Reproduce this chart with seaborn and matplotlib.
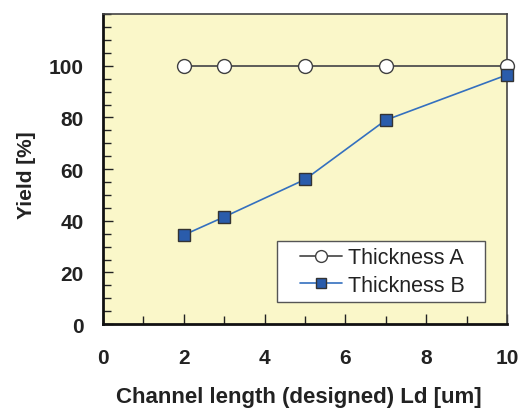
import matplotlib
matplotlib.use("Agg")
import matplotlib.pyplot as plt
from matplotlib.ticker import MultipleLocator
from matplotlib.patches import Rectangle
import seaborn as sns
import pandas as pd

lengths = [2, 3, 5, 7, 10]
yield_a = [100, 100, 100, 100, 100]
yield_b = [34.5, 41.5, 56, 79, 96.5]
series_names = ["Thickness A", "Thickness B"]

sns.set_theme(style="ticks")
plt.rcParams['font.family'] = ['Liberation Sans', 'DejaVu Sans']

fig = plt.figure(figsize=(5.2, 4.1), dpi=100)
ax = fig.add_axes([0.198, 0.207, 0.777, 0.756])
ax.set_facecolor("#FAF7C9")

dfa = pd.DataFrame({"x": lengths, "y": yield_a})
dfb = pd.DataFrame({"x": lengths, "y": yield_b})

sns.lineplot(data=dfa, x="x", y="y", ax=ax, color="#505050", lw=1.3,
             marker="o", markersize=10, markerfacecolor="white",
             markeredgecolor="#404040", markeredgewidth=1.0,
             label=series_names[0], clip_on=False, zorder=3)
sns.lineplot(data=dfb, x="x", y="y", ax=ax, color="#3470BF", lw=1.2,
             marker="s", markersize=8, markerfacecolor="#2A5CAB",
             markeredgecolor="#333333", markeredgewidth=1.0,
             label=series_names[1], clip_on=False, zorder=4)

ax.set_xlim(0, 10)
ax.set_ylim(0, 120)
ax.xaxis.set_major_locator(MultipleLocator(2))
ax.xaxis.set_minor_locator(MultipleLocator(1))
ax.set_yticks([0, 20, 40, 60, 80, 100])
ax.yaxis.set_minor_locator(MultipleLocator(5))

ax.tick_params(axis="both", which="major", direction="in", length=7, width=1.0,
               color="#222222", labelsize=15)
ax.tick_params(axis="both", which="minor", direction="in", length=6, width=1.0,
               color="#222222")
ax.tick_params(axis="x", which="major", pad=17)
ax.tick_params(axis="y", which="major", pad=14)
for lab in ax.get_xticklabels() + ax.get_yticklabels():
    lab.set_fontweight("bold")
    lab.set_color("#222222")

for side in ["left", "bottom"]:
    ax.spines[side].set_linewidth(2.0)
    ax.spines[side].set_color("#111111")
for side in ["top", "right"]:
    ax.spines[side].set_linewidth(1.2)
    ax.spines[side].set_color("#444444")

ax.set_xlabel("Channel length (designed) Ld [um]", fontsize=16, fontweight="bold",
              color="#222222", labelpad=14)
ax.xaxis.label.set_x(0.484)
ax.set_ylabel("Yield [%]", fontsize=15, fontweight="bold", color="#222222", labelpad=9)
ax.yaxis.label.set_y(0.484)

# legend frame
frame = Rectangle((0.4307, 0.071), 0.5149, 0.1968, transform=ax.transAxes,
                  facecolor="white", edgecolor="#555555", lw=1.0, zorder=5)
ax.add_patch(frame)

leg = ax.legend(loc="center left", bbox_to_anchor=(0.4876, 0.170), fontsize=15.5,
                frameon=False, handlelength=1.95, handletextpad=0.3, borderpad=0,
                labelspacing=0.3, markerscale=0.85, borderaxespad=0)
leg.set_zorder(6)
for t in leg.get_texts():
    t.set_color("#222222")

fig.savefig("out.png", dpi=100)
